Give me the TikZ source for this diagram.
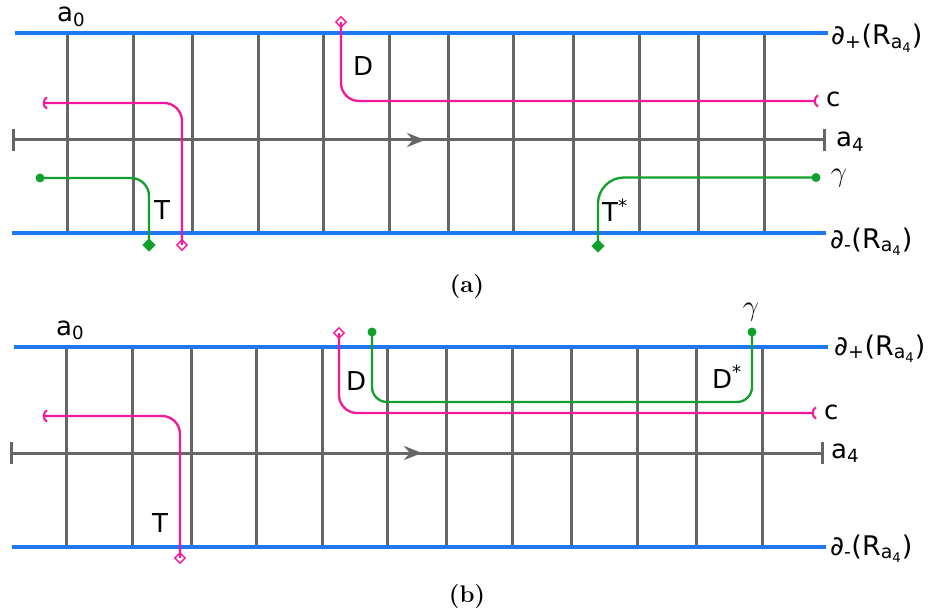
\documentclass[tikz,border=0pt]{standalone}
\usepackage{fontspec}
\usepackage{graphicx}
\newfontfamily\labfont{DejaVu Sans}
\usetikzlibrary{arrows.meta,shapes.geometric}
\definecolor{railblue}{HTML}{1F78F0}
\definecolor{gridgray}{HTML}{666666}
\definecolor{curvepink}{HTML}{F5179A}
\definecolor{curvegreen}{HTML}{12A02C}
\begin{document}
\begin{tikzpicture}[x=1pt,y=-1pt,
 rail/.style={draw=railblue,line width=3.1pt},
 gridline/.style={draw=gridgray,line width=3pt},
 axisline/.style={draw=gridgray,line width=3pt,{Bar[width=22pt]}-{Bar[width=22pt]}},
 dirarrow/.style={draw=gridgray,line width=3pt,-{Stealth[length=18pt,width=14pt]}},
 pinkpath/.style={draw=curvepink,line width=2.3pt,rounded corners=18pt},
 greenpath/.style={draw=curvegreen,line width=2.3pt,rounded corners=18pt},
 pinkcap/.style={draw=curvepink,line width=2pt},
 opendia/.style={diamond,draw=curvepink,line width=1.4pt,inner sep=0pt,minimum size=11pt},
 filldia/.style={diamond,fill=curvegreen,inner sep=0pt,minimum size=13.5pt},
 gdot/.style={circle,fill=curvegreen,inner sep=0pt,minimum size=9pt},
 lab/.style={inner sep=0pt,anchor=base west,font=\labfont\fontsize{26}{30}\selectfont},
 biglab/.style={inner sep=0pt,anchor=base west,font=\labfont\fontsize{27}{31}\selectfont},
 glab/.style={inner sep=0pt,font=\fontsize{24.88}{28}\selectfont},
 captext/.style={inner sep=0pt,font=\fontsize{24}{28}\selectfont\bfseries},
 ]
\useasboundingbox (0,0) rectangle (930,615);

% ---------------- panel (a) ----------------
\foreach \x in {67,133,192,258,323,389,448,513,573,639,698,764}
  \draw[gridline] (\x,33) -- (\x,233);
\draw[axisline] (12,140) -- (826,140);
\draw[dirarrow] (400,140) -- (425,140);
\draw[rail] (15,33) -- (828,33);
\draw[rail] (12,233) -- (826,233);

% pink curve c (left)
\coordinate (pa1) at (44,103);
\node[opendia] (pa2) at (182,245) {};
\draw[pinkpath] (pa1) -- (pa1 -| pa2.center) -- (pa2.center);
\draw[pinkcap] (pa1) ++(3,-5.6) arc[start angle=120,end angle=240,radius=6.5pt];
% pink curve D
\node[opendia] (pa3) at (341,22) {};
\coordinate (pa4) at (815,101);
\draw[pinkpath] (pa3.center) -- (pa3.center |- pa4) -- (pa4);
\draw[pinkcap] (pa4) ++(3,-5.6) arc[start angle=120,end angle=240,radius=6.5pt];
% green curve (left)
\node[gdot] (ga1) at (40,178) {};
\node[filldia] (ga2) at (149,245) {};
\draw[greenpath] (ga1.center) -- (ga1.center -| ga2.center) -- (ga2.center);
% green curve (right)
\node[filldia] (ga3) at (598,246) {};
\node[gdot] (ga4) at (816,177.5) {};
\draw[greenpath,rounded corners=26pt] (ga3.center) -- (ga3.center |- ga4.center) -- (ga4.center);

\node[lab] (a0a) at (57,22) {a\textsubscript{0}};
\node[lab] (Da) at (353,76) {D};
\node[lab] (Ta) at (154,219) {T};
\node[lab] (Tsa) at (602,222) {T\textsuperscript{*}};
\node[lab] (ca) at (826,107) {c};
\node[lab] (a4a) at (836,147) {a\textsubscript{4}};
\node[glab] (gma) at (839,178) {\scalebox{1.15}{$\gamma$}};
\node[biglab] (dpa) at (831,45) {∂\textsubscript{+}(R\textsubscript{a\textsubscript{4}})};
\node[biglab] (dma) at (830,248) {∂\textsubscript{-}(R\textsubscript{a\textsubscript{4}})};
\node[captext] (capa) at (467,287) {(a)};

% ---------------- panel (b) ----------------
\foreach \x in {66,132,191,256,322,387,446,512,571,637,696,762}
  \draw[gridline] (\x,347) -- (\x,547);
\draw[axisline] (10,453) -- (824,453);
\draw[dirarrow] (397,453) -- (422,453);
\draw[rail] (14,347) -- (828,347);
\draw[rail] (12,547) -- (826,547);

% pink curve c (left)
\coordinate (pb1) at (44,416);
\node[opendia] (pb2) at (180,558) {};
\draw[pinkpath] (pb1) -- (pb1 -| pb2.center) -- (pb2.center);
\draw[pinkcap] (pb1) ++(3,-5.6) arc[start angle=120,end angle=240,radius=6.5pt];
% pink curve D
\node[opendia] (pb3) at (339,333) {};
\coordinate (pb4) at (813,413);
\draw[pinkpath] (pb3.center) -- (pb3.center |- pb4) -- (pb4);
\draw[pinkcap] (pb4) ++(3,-5.6) arc[start angle=120,end angle=240,radius=6.5pt];
% green curve
\node[gdot] (gb1) at (372,332) {};
\node[gdot] (gb2) at (752,332) {};
\coordinate (gb3) at (372,402);
\draw[greenpath,rounded corners=15pt] (gb1.center) -- (gb3) -- (gb3 -| gb2.center) -- (gb2.center);

\node[lab] (a0b) at (56,335) {a\textsubscript{0}};
\node[lab] (Db) at (346,390) {D};
\node[lab] (Tb) at (152,532) {T};
\node[lab] (Dsb) at (712,388) {D\textsuperscript{*}};
\node[lab] (cb) at (824,419) {c};
\node[lab] (a4b) at (831,458) {a\textsubscript{4}};
\node[glab] (gmb) at (751,312) {\scalebox{1.15}{$\gamma$}};
\node[biglab] (dpb) at (834,355) {∂\textsubscript{+}(R\textsubscript{a\textsubscript{4}})};
\node[biglab] (dmb) at (830,555) {∂\textsubscript{-}(R\textsubscript{a\textsubscript{4}})};
\node[captext] (capb) at (467,597) {(b)};
\end{tikzpicture}
\end{document}
